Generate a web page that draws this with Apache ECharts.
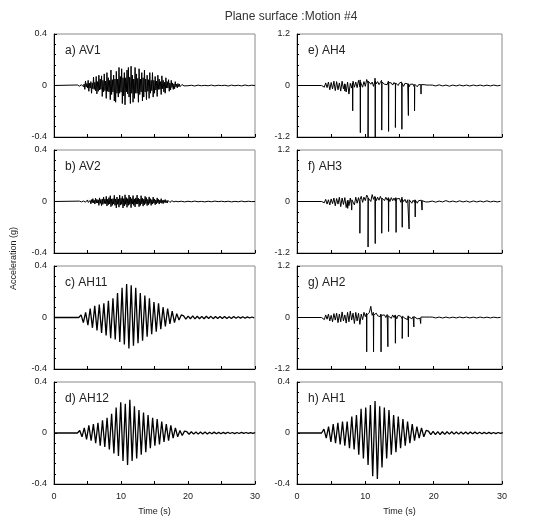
<!DOCTYPE html>
<html>
<head>
<meta charset="utf-8">
<script src="https://cdn.jsdelivr.net/npm/echarts@6/dist/echarts.min.js"></script>
<style>
  html, body { margin: 0; padding: 0; background: #fff; }
  #chart { width: 549px; height: 517px; }
</style>
</head>
<body>
<div id="chart"></div>
<script>
// ---- Records: acceleration (g) versus time (s) ----
// Each record: quiet (zero) until its start, then peak samples every DT seconds,
// then a low-level tail. Impact spikes of the AH2-AH4 channels are listed as [t, a].

const CHANNEL_NAMES = ['a) AV1', 'b) AV2', 'c) AH11', 'd) AH12', 'e) AH4', 'f) AH3', 'g) AH2', 'h) AH1'];
const TIME_TICKS = [0, 10, 20, 30];

// a) AV1
const AV1_T0 = 3.5, AV1_DT = 0.1;
const AV1 = [
  0.004,-0.006,0.012,-0.005,0.008,-0.015,0.006,-0.008,0.02,-0.01,
  0.012,-0.03,0.035,-0.012,0.015,-0.02,0.04,-0.045,0.018,-0.02,
  0.03,-0.06,0.02,-0.025,0.065,-0.03,0.025,-0.04,0.07,-0.065,
  0.03,-0.045,0.08,-0.035,0.05,-0.03,0.075,-0.085,0.04,-0.05,
  0.09,-0.04,0.035,-0.1,0.1,-0.045,0.06,-0.05,0.04,-0.11,
  0.12,-0.07,0.045,-0.05,0.08,-0.12,0.05,-0.13,0.11,-0.06,
  0.05,-0.09,0.14,-0.06,0.07,-0.05,0.13,-0.14,0.06,-0.08,
  0.1,-0.15,0.06,-0.05,0.12,-0.065,0.14,-0.09,0.065,-0.14,
  0.15,-0.06,0.08,-0.13,0.05,-0.1,0.14,-0.06,0.09,-0.06,
  0.055,-0.13,0.13,-0.07,0.05,-0.05,0.1,-0.12,0.06,-0.09,
  0.12,-0.05,0.05,-0.11,0.08,-0.045,0.045,-0.1,0.1,-0.06,
  0.04,-0.04,0.1,-0.09,0.04,-0.06,0.07,-0.035,0.035,-0.085,
  0.08,-0.03,0.05,-0.03,0.03,-0.07,0.075,-0.025,0.04,-0.05,
  0.025,-0.06,0.06,-0.02,0.03,-0.02,0.045,-0.045,0.02,-0.035,
  0.04,-0.015,0.02,-0.03,0.012,-0.025,0.03,-0.01,0.01,-0.018,
  0.015,-0.008,0.012,-0.01,0.005,-0.008,0.008,-0.004,0.005,-0.003
];
const AV1_TAIL_T0 = 19.5, AV1_TAIL_DT = 0.5;
const AV1_TAIL = [0.003,-0.002,0.002,-0.004,0.003,-0.002,0.001,-0.002,0.003,-0.003,0.002,
  -0.001,0.002,-0.004,0.003,-0.002,0.002,-0.003,0.004,-0.002,0.002,0];

// b) AV2
const AV2_T0 = 3.8, AV2_DT = 0.1;
const AV2 = [
  0.003,-0.004,0.006,-0.003,0.004,-0.007,0.004,-0.005,0.009,-0.005,
  0.006,-0.012,0.012,-0.007,0.008,-0.015,0.008,-0.018,0.014,-0.01,
  0.022,-0.01,0.01,-0.02,0.025,-0.012,0.016,-0.012,0.013,-0.03,
  0.028,-0.015,0.015,-0.032,0.02,-0.022,0.035,-0.016,0.018,-0.017,
  0.04,-0.035,0.018,-0.025,0.03,-0.019,0.045,-0.04,0.02,-0.03,
  0.022,-0.02,0.048,-0.03,0.02,-0.05,0.035,-0.022,0.02,-0.044,
  0.05,-0.028,0.025,-0.022,0.04,-0.05,0.022,-0.035,0.052,-0.022,
  0.03,-0.045,0.022,-0.03,0.05,-0.022,0.035,-0.048,0.022,-0.02,
  0.046,-0.03,0.02,-0.042,0.028,-0.02,0.05,-0.02,0.025,-0.04,
  0.019,-0.03,0.045,-0.018,0.025,-0.036,0.018,-0.025,0.04,-0.017,
  0.03,-0.032,0.016,-0.025,0.036,-0.015,0.022,-0.03,0.014,-0.02,
  0.034,-0.013,0.02,-0.025,0.012,-0.018,0.028,-0.011,0.016,-0.02,
  0.012,-0.009,0.022,-0.014,0.008,-0.016,0.012,-0.007,0.015,-0.01,
  0.006,-0.012,0.009,-0.005,0.01,-0.007,0.004,-0.008,0.006,-0.004,
  0.006,-0.003,0.003,-0.004,0.002,-0.002,0.003,-0.002,0.002,-0.001
];
const AV2_TAIL_T0 = 19.0, AV2_TAIL_DT = 0.5;
const AV2_TAIL = [0.002,-0.003,0.002,-0.002,0.003,-0.002,0.001,-0.003,0.002,-0.002,0.003,
  -0.001,0.002,-0.002,0.002,-0.003,0.001,-0.002,0.003,-0.002,0.002,-0.001,0];

// c) AH11
const AH11_T0 = 3.7, AH11_DT = 0.34;
const AH11 = [
  0,0.02,-0.04,0.04,-0.06,0.07,-0.08,0.09,-0.1,0.1,
  -0.12,0.11,-0.14,0.13,-0.16,0.15,-0.17,0.19,-0.19,0.23,
  -0.21,0.26,-0.24,0.25,-0.22,0.23,-0.2,0.19,-0.18,0.17,
  -0.15,0.15,-0.13,0.12,-0.11,0.11,-0.09,0.08,-0.07,0.07,
  -0.05,0.05,-0.04,0.03,-0.02,0.02
];
const AH11_TAIL_T0 = 19.34, AH11_TAIL_DT = 0.34;
const AH11_TAIL = [0.012,-0.012,0.011,-0.01,0.012,-0.011,0.01,-0.01,0.009,-0.01,0.01,-0.008,
  0.009,-0.009,0.008,-0.008,0.007,-0.008,0.008,-0.007,0.006,-0.007,0.007,-0.006,0.006,
  -0.005,0.006,-0.006,0.005,-0.004,0.004,-0.003];

// d) AH12
const AH12_T0 = 3.5, AH12_DT = 0.34;
const AH12 = [
  0,0.02,-0.03,0.04,-0.05,0.06,-0.06,0.07,-0.08,0.08,
  -0.1,0.1,-0.11,0.12,-0.13,0.15,-0.16,0.2,-0.18,0.24,
  -0.22,0.23,-0.25,0.26,-0.22,0.21,-0.2,0.18,-0.17,0.16,
  -0.15,0.14,-0.12,0.12,-0.1,0.11,-0.09,0.09,-0.07,0.07,
  -0.06,0.06,-0.04,0.04,-0.03,0.02,-0.02,0.015
];
const AH12_TAIL_T0 = 19.82, AH12_TAIL_DT = 0.34;
const AH12_TAIL = [0.01,-0.01,0.01,-0.009,0.008,-0.009,0.008,-0.007,0.007,-0.008,0.006,
  -0.006,0.007,-0.006,0.005,-0.006,0.005,-0.005,0.006,-0.004,0.004,-0.005,0.004,-0.004,
  0.005,-0.003,0.004,-0.003,0.003,-0.003,0.002];

// h) AH1
const AH1_T0 = 3.6, AH1_DT = 0.34;
const AH1 = [
  0,0.03,-0.04,0.05,-0.07,0.07,-0.08,0.08,-0.09,0.09,
  -0.1,0.09,-0.12,0.13,-0.13,0.14,-0.17,0.19,-0.2,0.2,
  -0.25,0.22,-0.34,0.25,-0.36,0.21,-0.27,0.2,-0.2,0.18,
  -0.17,0.14,-0.15,0.13,-0.12,0.11,-0.1,0.09,-0.08,0.07,
  -0.06,0.05,-0.04,0.04,-0.03,0.02
];
const AH1_TAIL_T0 = 19.24, AH1_TAIL_DT = 0.34;
const AH1_TAIL = [0.014,-0.013,0.012,-0.012,0.011,-0.012,0.01,-0.011,0.01,-0.009,0.01,
  -0.009,0.008,-0.009,0.008,-0.008,0.007,-0.008,0.007,-0.006,0.007,-0.006,0.006,-0.006,
  0.005,-0.006,0.005,-0.005,0.004,-0.005,0.004,-0.003,0.003];

// e) AH4, f) AH3, g) AH2: low-level motion plus impact spikes
const IMP_T0 = 3.6, IMP_DT = 0.2;
const IMP_TAIL_T0 = 19.8, IMP_TAIL_DT = 0.5;

const AH4 = [
  0,0.03,-0.04,0.06,-0.05,0.08,-0.1,0.07,-0.08,0.1,
  -0.12,0.09,-0.1,0.06,-0.13,0.1,-0.08,0.05,-0.15,0.08,
  -0.2,0.05,-0.06,0.1,-0.04,0.08,-0.05,0.12,-0.03,0.1,
  -0.04,0.09,-0.02,0.14,0.05,0.12,0.03,0.08,-0.02,0.1,
  0.04,0.09,0.02,0.07,0.05,0.1,0.03,0.06,0.02,0.08,
  0.03,0.06,0.01,0.07,0.02,0.05,0,0.06,0.02,0.04,
  -0.02,0.05,0.01,0.04,-0.03,0.03,0,0.03,-0.05,0.02,
  -0.03,0.02,-0.02,0.03,-0.01,0.02,-0.01,0.01,-0.01,0.01
];
const AH4_SPIKES = [
  [6.97,0.04],[7.0,-0.13],[7.03,0.03],
  [8.12,0.06],[8.15,-0.59],[8.18,0.05],
  [9.24,0.13],[9.27,-1.1],[9.3,0.08],
  [10.37,0.16],[10.4,-1.2],[10.43,0.1],
  [11.42,0.17],[11.45,-1.2],[11.48,0.1],
  [12.37,0.12],[12.4,-1.04],[12.43,0.08],
  [13.37,0.1],[13.4,-1.07],[13.43,0.07],
  [14.37,0.08],[14.4,-0.98],[14.43,0.06],
  [15.32,0.08],[15.35,-1.02],[15.38,0.05],
  [16.27,0.06],[16.3,-0.7],[16.33,0.04],
  [17.17,0.04],[17.2,-0.59],[17.23,0.03],
  [18.12,0.02],[18.15,-0.2],[18.18,0.02]
];
const AH4_TAIL = [0.01,-0.01,0.015,-0.01,0.01,-0.015,0.01,-0.01,0.012,-0.01,0.01,
  -0.012,0.01,-0.008,0.01,-0.01,0.008,-0.01,0.01,-0.008,0.005];

const AH3 = [
  0,0.02,-0.03,0.05,-0.06,0.04,-0.08,0.06,-0.05,0.08,
  -0.1,0.07,-0.06,0.1,-0.12,0.08,-0.07,0.09,-0.14,0.06,
  -0.1,0.08,-0.12,0.05,-0.08,0.1,-0.04,0.09,-0.06,0.12,
  -0.02,0.1,0.02,0.15,0.04,0.1,0,0.16,0.05,0.12,
  0.02,0.1,0.03,0.12,0.04,0.09,0.02,0.1,0.03,0.08,
  0,0.09,0.02,0.08,0.01,0.1,0.03,0.07,-0.02,0.06,
  0,0.05,-0.03,0.04,0.01,0.03,-0.04,0.03,-0.02,0.02,
  -0.04,0.02,-0.02,0.03,-0.01,0.02,-0.01,0.01,-0.01,0.01
];
const AH3_SPIKES = [
  [7.38,0.02],[7.42,-0.16],[7.46,0.03],
  [7.96,0.05],[8.0,-0.2],[8.04,0.04],
  [9.17,0.06],[9.2,-0.74],[9.23,0.05],
  [10.37,0.1],[10.4,-1.06],[10.43,0.08],
  [11.42,0.16],[11.45,-0.98],[11.48,0.1],
  [12.37,0.1],[12.4,-0.74],[12.43,0.08],
  [13.37,0.09],[13.4,-0.7],[13.43,0.07],
  [14.47,0.09],[14.5,-0.72],[14.53,0.06],
  [15.37,0.1],[15.4,-0.6],[15.43,0.05],
  [16.37,0.07],[16.4,-0.64],[16.43,0.04],
  [17.27,0.04],[17.3,-0.36],[17.33,0.03],
  [18.27,0.02],[18.3,-0.2],[18.33,0.02]
];
const AH3_TAIL = [0.01,-0.015,0.01,-0.01,0.02,-0.01,0.01,-0.012,0.015,-0.01,0.01,
  -0.015,0.012,-0.01,0.01,-0.01,0.015,-0.01,0.008,-0.01,0.005];

const AH2 = [
  0,0.03,-0.05,0.06,-0.04,0.08,-0.08,0.05,-0.1,0.09,
  -0.06,0.1,-0.12,0.08,-0.1,0.13,-0.08,0.06,-0.13,0.12,
  -0.1,0.15,-0.06,0.1,-0.14,0.12,-0.08,0.1,-0.16,0.08,
  -0.05,0.12,0.02,0.14,0.05,0.12,0.26,0.05,0.1,0.03,
  0.1,0.04,0.08,0.02,0.09,0.03,0.06,0,0.07,0.02,
  0.05,-0.02,0.06,0,0.04,-0.03,0.05,0.01,0.03,-0.04,
  0.03,-0.02,0.02,-0.05,0.02,0,-0.03,0.02,-0.01,0.02,
  -0.03,0.01,-0.02,0.02,-0.01,0.01,-0.01,0.01,0,0.01
];
const AH2_SPIKES = [
  [10.17,0.1],[10.2,-0.8],[10.23,0.06],
  [11.17,0.12],[11.2,-0.8],[11.23,0.06],
  [12.27,0.08],[12.3,-0.8],[12.33,0.05],
  [13.27,0.06],[13.3,-0.68],[13.33,0.04],
  [14.37,0.06],[14.4,-0.6],[14.43,0.04],
  [15.37,0.05],[15.4,-0.49],[15.43,0.03],
  [16.27,0.04],[16.3,-0.45],[16.33,0.02],
  [17.07,0.02],[17.1,-0.22],[17.13,0.02],
  [18.07,0.01],[18.1,-0.14],[18.13,0.01]
];
const AH2_TAIL = [0.01,-0.01,0.01,-0.012,0.01,-0.01,0.008,-0.01,0.01,-0.008,0.01,
  -0.01,0.008,-0.01,0.01,-0.008,0.008,-0.01,0.008,-0.006,0.005];

// ---- Build [t, a] point lists ----
function record(t0, dt, vals, tailT0, tailDt, tail, spikes) {
  const pts = [[0, 0]];
  vals.forEach((v, i) => pts.push([+(t0 + i * dt).toFixed(3), v]));
  if (spikes) spikes.forEach(p => pts.push(p));
  tail.forEach((v, i) => pts.push([+(tailT0 + i * tailDt).toFixed(3), v]));
  pts.sort((a, b) => a[0] - b[0]);
  return pts;
}

// Panel order: left column a-d, right column e-h
const panels = [
  { name: CHANNEL_NAMES[0], range: 0.4, width: 1, data: record(AV1_T0, AV1_DT, AV1, AV1_TAIL_T0, AV1_TAIL_DT, AV1_TAIL) },
  { name: CHANNEL_NAMES[1], range: 0.4, width: 1, data: record(AV2_T0, AV2_DT, AV2, AV2_TAIL_T0, AV2_TAIL_DT, AV2_TAIL) },
  { name: CHANNEL_NAMES[2], range: 0.4, width: 1.3, data: record(AH11_T0, AH11_DT, AH11, AH11_TAIL_T0, AH11_TAIL_DT, AH11_TAIL) },
  { name: CHANNEL_NAMES[3], range: 0.4, width: 1.3, data: record(AH12_T0, AH12_DT, AH12, AH12_TAIL_T0, AH12_TAIL_DT, AH12_TAIL) },
  { name: CHANNEL_NAMES[4], range: 1.2, width: 1, data: record(IMP_T0, IMP_DT, AH4, IMP_TAIL_T0, IMP_TAIL_DT, AH4_TAIL, AH4_SPIKES) },
  { name: CHANNEL_NAMES[5], range: 1.2, width: 1, data: record(IMP_T0, IMP_DT, AH3, IMP_TAIL_T0, IMP_TAIL_DT, AH3_TAIL, AH3_SPIKES) },
  { name: CHANNEL_NAMES[6], range: 1.2, width: 1, data: record(IMP_T0, IMP_DT, AH2, IMP_TAIL_T0, IMP_TAIL_DT, AH2_TAIL, AH2_SPIKES) },
  { name: CHANNEL_NAMES[7], range: 0.4, width: 1.3, data: record(AH1_T0, AH1_DT, AH1, AH1_TAIL_T0, AH1_TAIL_DT, AH1_TAIL) }
];

// ---- Layout ----
const COL_LEFT = [54, 297];
const COL_WIDTH = [201, 205];
const ROW_TOP = [34, 150, 266, 382];
const ROW_HEIGHT = 103;
const FONT = '"Liberation Sans", Arial, sans-serif';
const INK = '#1a1a1a';

const grids = [], xAxes = [], yAxes = [], series = [], titles = [];

titles.push({
  text: 'Plane surface :Motion #4',
  left: 286, top: 6, textAlign: 'center',
  textStyle: { fontFamily: FONT, fontSize: 12, fontWeight: 'normal', color: '#333' }
});

panels.forEach((p, i) => {
  const col = i < 4 ? 0 : 1;
  const row = i % 4;
  const bottomRow = row === 3;
  grids.push({
    left: COL_LEFT[col], top: ROW_TOP[row], width: COL_WIDTH[col], height: ROW_HEIGHT,
    show: true, borderColor: '#8a8a8a', borderWidth: 1, backgroundColor: 'transparent'
  });
  xAxes.push({
    type: 'value', gridIndex: i, min: TIME_TICKS[0], max: TIME_TICKS[TIME_TICKS.length - 1], interval: 10,
    axisLine: { onZero: false, lineStyle: { color: '#000', width: 1 } },
    axisTick: { inside: true, length: 3, lineStyle: { color: '#000' } },
    minorTick: { show: true, splitNumber: 2, length: 3, lineStyle: { color: '#000' } },
    splitLine: { show: false },
    axisLabel: { show: bottomRow, fontFamily: FONT, fontSize: 9, color: INK, margin: 8 },
    name: bottomRow ? 'Time (s)' : '',
    nameLocation: 'middle', nameGap: 23,
    nameTextStyle: { fontFamily: FONT, fontSize: 9, color: INK }
  });
  yAxes.push({
    type: 'value', gridIndex: i, min: -p.range, max: p.range, interval: p.range,
    axisLine: { onZero: false, lineStyle: { color: '#000', width: 1 } },
    axisTick: { inside: true, length: 3, lineStyle: { color: '#000' } },
    minorTick: { show: true, splitNumber: 5, length: 2, lineStyle: { color: '#000' } },
    splitLine: { show: false },
    axisLabel: { fontFamily: FONT, fontSize: 9, color: INK, margin: 7 }
  });
  series.push({
    type: 'line', xAxisIndex: i, yAxisIndex: i, data: p.data,
    showSymbol: false, symbol: 'none', sampling: null, clip: true,
    lineStyle: { color: '#000', width: p.width }, animation: false
  });
  titles.push({
    text: p.name, left: COL_LEFT[col] + 6, top: ROW_TOP[row] + 6,
    textStyle: { fontFamily: FONT, fontSize: 12, fontWeight: 'normal', color: '#222' }
  });
});

const chart = echarts.init(document.getElementById('chart'), null, { renderer: 'canvas' });
chart.setOption({
  animation: false,
  backgroundColor: '#fff',
  title: titles,
  grid: grids,
  xAxis: xAxes,
  yAxis: yAxes,
  series: series,
  graphic: [{
    type: 'text', left: 9, top: 'middle', rotation: Math.PI / 2,
    style: { text: 'Acceleration (g)', fontFamily: FONT, fontSize: 9, fill: INK }
  }]
});
</script>
</body>
</html>
